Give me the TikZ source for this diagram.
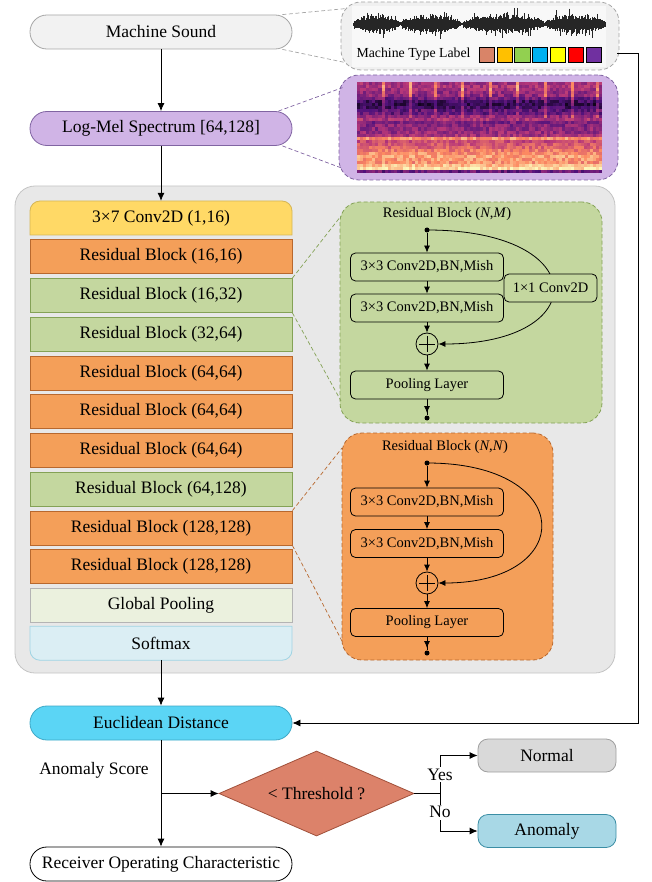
\documentclass[tikz,border=0pt]{standalone}
\usepackage{fontspec}
\setmainfont{Liberation Serif}
\usetikzlibrary{arrows.meta,shapes.geometric}
\definecolor{msfill}{HTML}{F2F2F2}
\definecolor{msdraw}{HTML}{A6A6A6}
\definecolor{lmfill}{HTML}{D0B4E6}
\definecolor{lmdraw}{HTML}{8064A2}
\definecolor{yfill}{HTML}{FFD966}
\definecolor{ydraw}{HTML}{D6B656}
\definecolor{ofill}{HTML}{F49F59}
\definecolor{odraw}{HTML}{B8682E}
\definecolor{gfill}{HTML}{C4D79F}
\definecolor{gdraw}{HTML}{84A256}
\definecolor{gpfill}{HTML}{EBF1DE}
\definecolor{gpdraw}{HTML}{B4B4B4}
\definecolor{smfill}{HTML}{DBEEF4}
\definecolor{smdraw}{HTML}{A0D4E4}
\definecolor{panfill}{HTML}{E8E8E8}
\definecolor{pandraw}{HTML}{C4C4C4}
\definecolor{eufill}{HTML}{5BD5F5}
\definecolor{eudraw}{HTML}{3EA8C6}
\definecolor{difill}{HTML}{DC826A}
\definecolor{didraw}{HTML}{A0503A}
\definecolor{nofill}{HTML}{D9D9D9}
\definecolor{nodraw}{HTML}{A0A0A0}
\definecolor{anfill}{HTML}{A8D8E6}
\definecolor{andraw}{HTML}{3B8EA5}
\definecolor{wpfill}{HTML}{F0F0F0}
\definecolor{wbg}{HTML}{F8F8F8}
\definecolor{sqa}{HTML}{D98468}
\definecolor{sqb}{HTML}{FFC000}
\definecolor{sqc}{HTML}{92D050}
\definecolor{sqd}{HTML}{00B0F0}
\definecolor{sqe}{HTML}{FFFF00}
\definecolor{sqf}{HTML}{FF0000}
\definecolor{sqg}{HTML}{7030A0}
\tikzset{
 mf/.style={font=\fontsize{17.5}{21}\selectfont},
 sf/.style={font=\fontsize{14.5}{17}\selectfont},
 lf/.style={font=\fontsize{13.8}{16}\selectfont},
 capsule/.style={draw, line width=0.8pt, rounded corners=16.9pt, minimum width=262pt, minimum height=34pt, inner sep=0pt, mf},
 layer/.style={draw, line width=0.8pt, minimum width=262pt, minimum height=34pt, inner sep=0pt, mf},
 olayer/.style={layer, fill=ofill, draw=odraw},
 glayer/.style={layer, fill=gfill, draw=gdraw},
 txt/.style={inner sep=0pt, mf},
 boxtxt/.style={inner sep=0pt, minimum width=262pt, minimum height=34pt, mf},
 dpanel/.style={draw, line width=0.8pt, dash pattern=on 4pt off 2.5pt, rounded corners=20pt, inner sep=0pt},
 ibox/.style={draw=black, line width=0.8pt, rounded corners=5pt, minimum width=153pt, minimum height=28pt, inner sep=0pt, sf},
 blackdot/.style={circle, fill=black, inner sep=0pt, minimum size=5pt},
 sumnode/.style={circle, draw=black, line width=0.8pt, minimum size=22pt, inner sep=0pt,
   path picture={\draw[line width=0.8pt] ([xshift=-8pt]path picture bounding box.center) -- ([xshift=8pt]path picture bounding box.center) ([yshift=-8pt]path picture bounding box.center) -- ([yshift=8pt]path picture bounding box.center);}},
 arr/.style={line width=0.8pt, -{Latex[length=8pt,width=7pt]}},
 iarr/.style={line width=0.8pt, -{Latex[length=7pt,width=6pt]}},
 conn/.style={line width=0.8pt},
 dconn/.style={line width=0.7pt, dash pattern=on 4pt off 2.5pt},
}
\begin{document}
\begin{tikzpicture}[x=1pt,y=1pt]
\useasboundingbox (0,0) rectangle (651,-882);

% ---------- top panels ----------
\node[dpanel, draw=msdraw, fill=wpfill, minimum width=278pt, minimum height=68pt] (wave) at (480,-36) {};
\fill[wbg] (352,-6) rectangle (606,-67);
\pgfmathsetseed{42}
\draw[black, line width=0.7pt] (353,-24) -- (605,-24);
\foreach \xa/\xb in {353/399, 400/461, 462/544, 545/605}{
  \foreach \xx in {\xa,...,\xb}{
    \pgfmathsetmacro\wt{(\xx-\xa)/(\xb-\xa)}
    \pgfmathsetmacro\env{0.15+0.85*max(sin(180*\wt),0.01)^0.5}
    \pgfmathsetmacro\am{min(16,\env*(5+5*rnd) + (rnd>0.88 ? \env*rnd*8 : 0))}
    \pgfmathsetmacro\an{min(16,\env*(5+5*rnd) + (rnd>0.88 ? \env*rnd*8 : 0))}
    \draw[line width=1pt, black!85] (\xx,{-24+\am}) -- (\xx,{-24-\an});
  }
}
\node[lf] (mtl) at (413.5,-54) {Machine Type Label};
\foreach \cc [count=\i from 0] in {sqa,sqb,sqc,sqd,sqe,sqf,sqg}{
  \node[draw=black, fill=\cc, line width=0.7pt, minimum size=15.3pt, inner sep=0pt] (sq\i) at ({486.7+\i*17.8},-54.7) {};
}

\node[dpanel, draw=lmdraw, fill=lmfill, minimum width=279pt, minimum height=105pt] (spec) at (478.5,-127.5) {};
\pgfmathsetseed{11}
\foreach \ri in {0,...,29}{
 \pgfmathsetmacro\bs{{0.45,0.48,0.45,0.42,0.40,0.32,0.2,0.15,0.2,0.28,0.3,0.42,0.47,0.35,0.38,0.4,0.42,0.45,0.76,0.55,0.6,0.63,0.7,0.76,0.8,0.78,0.76,0.86,0.94,0.3}[\ri]}
 \pgfmathsetmacro\st{\ri<5 ? 0.3 : (\ri<12 ? 0.15 : 0)}
 \foreach \ci in {0,...,79}{
  \pgfmathsetmacro\sv{mod(\ci*3.0625+4.5,27)<3.1 ? 1 : 0}
  \pgfmathsetmacro\vv{max(0.02,min(0.99,\bs+(rnd-0.5)*0.2+\sv*\st))}
  \pgfmathtruncatemacro\kk{floor(\vv*4)}
  \pgfmathsetmacro\ft{\vv*4-\kk}
  \pgfmathsetmacro\rA{{0,81,183,252,252}[\kk]}
  \pgfmathsetmacro\rB{{0,81,183,252,252}[\kk+1]}
  \pgfmathsetmacro\gA{{0,18,55,137,253}[\kk]}
  \pgfmathsetmacro\gB{{0,18,55,137,253}[\kk+1]}
  \pgfmathsetmacro\bA{{4,124,121,97,191}[\kk]}
  \pgfmathsetmacro\bB{{4,124,121,97,191}[\kk+1]}
  \pgfmathsetmacro\cR{(\rA*(1-\ft)+\rB*\ft)/255}
  \pgfmathsetmacro\cG{(\gA*(1-\ft)+\gB*\ft)/255}
  \pgfmathsetmacro\cB{(\bA*(1-\ft)+\bB*\ft)/255}
  \definecolor{mc}{rgb}{\cR,\cG,\cB}
  \fill[mc] ({357+\ci*3.0625},{-82-\ri*3.033}) rectangle ++(3.2,-3.15);
 }
}

% ---------- top left nodes ----------
\node[capsule, fill=msfill, draw=msdraw] (ms) at (161,-32) {Machine Sound};
\node[capsule, fill=lmfill, draw=lmdraw] (lm) at (161,-128.5) {Log-Mel Spectrum [64,128]};
\draw[dconn, draw=msdraw] ([xshift=-10pt]ms.north east) -- ([xshift=5pt,yshift=-7pt]wave.north west);
\draw[dconn, draw=msdraw] ([xshift=-10pt]ms.south east) -- ([xshift=4pt,yshift=8pt]wave.south west);
\draw[dconn, draw=lmdraw] ([xshift=-14pt]lm.north east) -- ([xshift=4pt,yshift=-13pt]spec.north west);
\draw[dconn, draw=lmdraw] ([xshift=-10pt]lm.south east) -- ([xshift=4pt,yshift=12pt]spec.south west);
\draw[arr] (ms) -- (lm);

% ---------- network panel ----------
\node[draw=pandraw, fill=panfill, line width=0.8pt, rounded corners=20pt, minimum width=600pt, minimum height=487pt, inner sep=0pt] (net) at (315,-429.5) {};

\draw[fill=yfill, draw=ydraw, line width=0.8pt] (30,-235) -- (30,-211) arc[start angle=180, end angle=90, radius=10pt] -- (282,-201) arc[start angle=90, end angle=0, radius=10pt] -- (292,-235) -- cycle;
\node[boxtxt] (conv) at (161,-218) {3×7 Conv2D (1,16)};
\node[olayer] (L1) at (161,-256.75) {Residual Block (16,16)};
\node[glayer] (L2) at (161,-295.5) {Residual Block (16,32)};
\node[glayer] (L3) at (161,-334.25) {Residual Block (32,64)};
\node[olayer] (L4) at (161,-373) {Residual Block (64,64)};
\node[olayer] (L5) at (161,-411.75) {Residual Block (64,64)};
\node[olayer] (L6) at (161,-450.5) {Residual Block (64,64)};
\node[glayer] (L7) at (161,-489.25) {Residual Block (64,128)};
\node[olayer] (L8) at (161,-528) {Residual Block (128,128)};
\node[olayer] (L9) at (161,-566.75) {Residual Block (128,128)};
\node[layer, fill=gpfill, draw=gpdraw] (L10) at (161,-605.5) {Global Pooling};
\draw[fill=smfill, draw=smdraw, line width=0.8pt] (30,-626.25) -- (30,-650.25) arc[start angle=180, end angle=270, radius=10pt] -- (282,-660.25) arc[start angle=270, end angle=360, radius=10pt] -- (292,-626.25) -- cycle;
\node[boxtxt] (sm) at (161,-643.25) {Softmax};
\draw[arr] (lm) -- (conv);

% ---------- green detail ----------
\node[dpanel, draw=gdraw, fill=gfill, minimum width=262pt, minimum height=221pt] (gpanel) at (471,-312.5) {};
\coordinate (gc1) at (341,-216);
\coordinate (gc2) at (341,-401);
\draw[dconn, draw=gdraw] (L2.north east) -- (gc1);
\draw[dconn, draw=gdraw] (L2.south east) -- (gc2);
\node[sf] (gtitle) at (447,-214) {Residual Block (\textit{N},\textit{M})};
\node[blackdot] (gdot) at (427,-230) {};
\node[ibox, fill=gfill] (gb1) at (427,-267) {3×3 Conv2D,BN,Mish};
\node[ibox, fill=gfill] (gb2) at (427,-308) {3×3 Conv2D,BN,Mish};
\node[sumnode, fill=gfill] (gsum) at (427,-344) {};
\node[ibox, fill=gfill] (gpool) at (427,-385) {Pooling Layer};
\node[blackdot] (gend) at (427,-418) {};
\draw[iarr] (gdot) -- (gb1);
\draw[iarr] (gb1) -- (gb2);
\draw[iarr] (gb2) -- (gsum);
\draw[iarr] (gsum) -- (gpool);
\draw[conn] (gpool) -- (gend);
\draw[iarr] (gpool.south) -- ([yshift=5pt]gend.center);
\draw[iarr] (gdot.center) .. controls (593,-230) and (593,-344) .. (gsum.east);
\node[ibox, fill=gfill, minimum width=93pt] (g11) at (550.5,-288) {1×1 Conv2D};

% ---------- orange detail ----------
\node[dpanel, draw=odraw, fill=ofill, minimum width=211pt, minimum height=227pt] (opanel) at (447.5,-546.5) {};
\coordinate (oc1) at (342,-448);
\coordinate (oc2) at (342,-641);
\draw[dconn, draw=odraw] (L8.north east) -- (oc1);
\draw[dconn, draw=odraw] (L8.south east) -- (oc2);
\node[sf] (otitle) at (445,-447) {Residual Block (\textit{N},\textit{N})};
\node[blackdot] (odot) at (427,-463) {};
\node[ibox, fill=ofill] (ob1) at (427,-502) {3×3 Conv2D,BN,Mish};
\node[ibox, fill=ofill] (ob2) at (427,-543.5) {3×3 Conv2D,BN,Mish};
\node[sumnode, fill=ofill] (osum) at (427,-583) {};
\node[ibox, fill=ofill] (opool) at (427,-622.5) {Pooling Layer};
\node[blackdot] (oend) at (427,-653) {};
\draw[iarr] (odot) -- (ob1);
\draw[iarr] (ob1) -- (ob2);
\draw[iarr] (ob2) -- (osum);
\draw[iarr] (osum) -- (opool);
\draw[conn] (opool) -- (oend);
\draw[iarr] (opool.south) -- ([yshift=5pt]oend.center);
\draw[iarr] (odot.center) .. controls (577,-463) and (577,-583) .. (osum.east);

% ---------- bottom ----------
\node[capsule, fill=eufill, draw=eudraw] (eu) at (161,-723) {Euclidean Distance};
\draw[arr] (sm) -- (eu);
\coordinate (fbc) at (638,-53);
\draw[arr] ([xshift=-2pt,yshift=-17pt]wave.east) -- (fbc) |- (eu.east);
\node[capsule, fill=white, draw=black] (roc) at (161,-864) {Receiver Operating Characteristic};
\draw[arr] (eu) -- (roc);
\node[txt] (as) at (94,-770) {Anomaly Score};
\node[diamond, draw=didraw, fill=difill, line width=0.8pt, minimum width=195pt, minimum height=85pt, inner sep=0pt, aspect=2.3, mf] (th) at (316.5,-793.5) {< Threshold ?};
\coordinate (br) at (161,-793.5);
\draw[arr] (br) -- (th.west);
\node[draw=nodraw, fill=nofill, rounded corners=10pt, minimum width=138pt, minimum height=33pt, inner sep=0pt, line width=0.8pt, mf] (normal) at (547,-755.5) {Normal};
\node[draw=andraw, fill=anfill, rounded corners=10pt, minimum width=138pt, minimum height=33pt, inner sep=0pt, line width=0.8pt, mf] (anom) at (547,-831) {Anomaly};
\coordinate (sp) at (440,-793.5);
\draw[conn] (th.east) -- (sp);
\draw[arr] (sp) |- (normal.west) node[pos=0.25, fill=white, inner sep=1.5pt, mf] (yes) {Yes};
\draw[arr] (sp) |- (anom.west) node[pos=0.25, fill=white, inner sep=1.5pt, mf] (no) {No};
\end{tikzpicture}
\end{document}
